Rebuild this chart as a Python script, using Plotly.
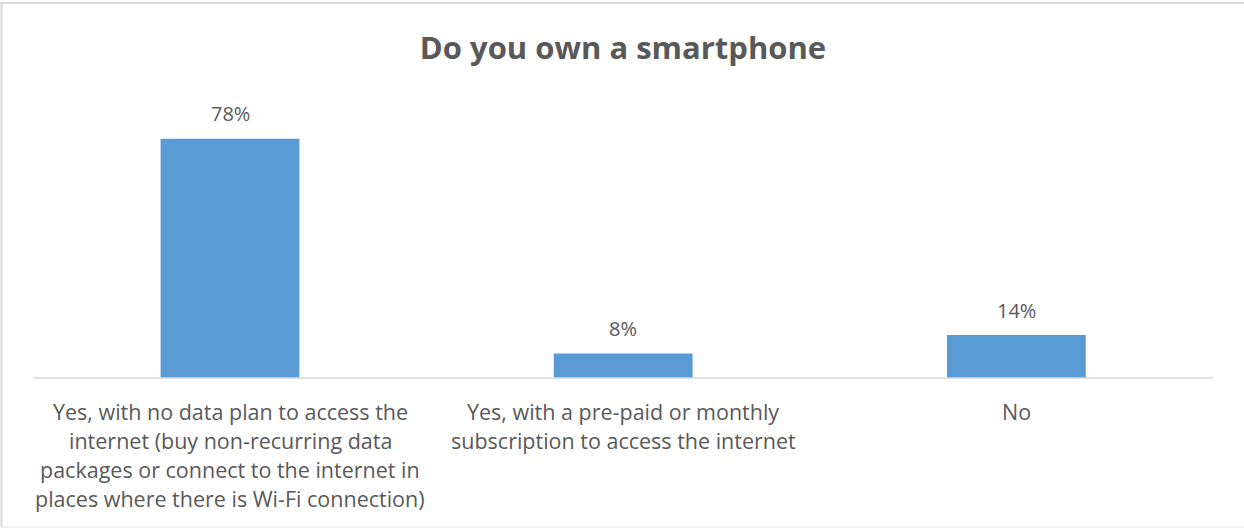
import plotly.graph_objects as go

# Survey answers and their shares
categories = ["yes_no_plan", "yes_subscription", "no"]
label_lines = [
    ["Yes, with no data plan to access the",
     "internet (buy non-recurring data",
     "packages or connect to the internet in",
     "places where there is Wi-Fi connection)"],
    ["Yes, with a pre-paid or monthly",
     "subscription to access the internet"],
    ["No"],
]
shares = [0.78, 0.08, 0.14]
value_labels = ["78%", "8%", "14%"]

BAR_COLOR = "#5B9BD5"
TEXT_COLOR = "#595959"
FONT = "Open Sans"

fig = go.Figure()
fig.add_trace(go.Bar(
    x=categories,
    y=shares,
    marker=dict(color=BAR_COLOR, line=dict(width=0)),
    width=0.353,
    hoverinfo="skip",
))

annotations = []
# value labels above the bars
for cat, val, txt in zip(categories, shares, value_labels):
    annotations.append(dict(
        x=cat, y=val, xref="x", yref="y", text=txt, showarrow=False,
        yanchor="middle", yshift=25,
        font=dict(family=FONT, size=20, color=TEXT_COLOR),
    ))
# wrapped category labels below the axis
LINE_STEP = 29
for cat, lines in zip(categories, label_lines):
    for i, line in enumerate(lines):
        annotations.append(dict(
            x=cat, y=0, xref="x", yref="paper", text=line, showarrow=False,
            yanchor="middle", yshift=-33 - LINE_STEP * i,
            font=dict(family=FONT, size=21.5, color=TEXT_COLOR),
        ))

# axis baseline
shapes = [
    dict(type="line", xref="paper", yref="paper", x0=0, x1=1, y0=0, y1=0,
         line=dict(color="#D9D9D9", width=1.5)),
]

fig.update_layout(
    width=1244, height=529,
    margin=dict(l=33, r=31, t=102, b=151),
    paper_bgcolor="white", plot_bgcolor="white",
    showlegend=False,
    title=dict(
        text="<b>Do you own a smartphone</b>",
        x=0.5, xanchor="center", xref="paper",
        y=1 - 48 / 529, yanchor="middle", yref="container",
        font=dict(family=FONT, size=31, color=TEXT_COLOR),
    ),
    xaxis=dict(showticklabels=False, ticks="", showgrid=False, zeroline=False,
               showline=False, fixedrange=True),
    yaxis=dict(range=[0, 0.9], visible=False, showgrid=False, zeroline=False,
               fixedrange=True),
    annotations=annotations,
    shapes=shapes,
)

# outer frame of the chart (top, left, bottom)
fig.add_shape(type="line", xref="paper", yref="paper",
              x0=-33 / 1180, x1=1211 / 1180, y0=1 + 99 / 276, y1=1 + 99 / 276,
              line=dict(color="#D9D9D9", width=2))
fig.add_shape(type="line", xref="paper", yref="paper",
              x0=-31.5 / 1180, x1=-31.5 / 1180, y0=-149 / 276, y1=1 + 99 / 276,
              line=dict(color="#D9D9D9", width=2))
fig.add_shape(type="line", xref="paper", yref="paper",
              x0=-33 / 1180, x1=1211 / 1180, y0=-149 / 276, y1=-149 / 276,
              line=dict(color="#E6E6E6", width=1))

fig.write_html("out.html")
